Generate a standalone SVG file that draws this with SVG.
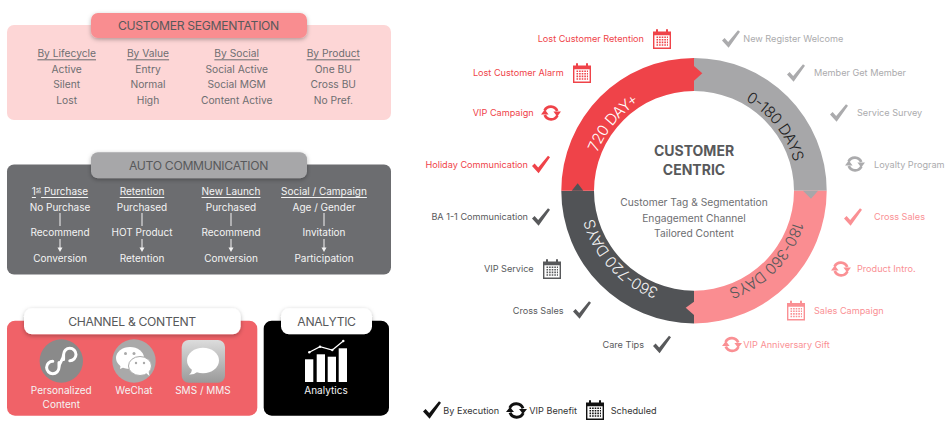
<svg xmlns="http://www.w3.org/2000/svg" xmlns:xlink="http://www.w3.org/1999/xlink" width="950" height="425" viewBox="0 0 950 425">
<style>
text{font-family:Inter,"Liberation Sans",sans-serif;dominant-baseline:central;text-anchor:middle}
.h{font-size:12.2px;fill:#58595b;letter-spacing:-.33px}
.p{font-size:10.25px;fill:#6d6e71}
.u{text-decoration:underline}
.w{font-size:10px;fill:#f4f4f4}
.l{font-size:9.15px}
.e{text-anchor:end}
.s{text-anchor:start}
.red{fill:#ef4349;color:#ef4349}
.gry{fill:#ababad;color:#ababad}
.pnk{fill:#fa9094;color:#fa9094}
.drk{fill:#58595b;color:#58595b}
.blk{fill:#222;color:#111}
.r{font-size:15.2px;font-weight:300}
</style>
<defs>
<filter id="sh" x="-10%" y="-30%" width="120%" height="170%"><feDropShadow dx="0" dy="1.5" stdDeviation="2" flood-color="#000" flood-opacity=".3"/></filter>
<linearGradient id="sms" x1="0" y1="0" x2="0" y2="1"><stop offset="0" stop-color="#dcdcdc"/><stop offset="1" stop-color="#9a9a9a"/></linearGradient>
<path id="ring" d="M694 80.7A110 110 0 1 1 693.99 80.7"/>
<symbol id="chk" viewBox="0 0 18 18" overflow="visible"><path fill="currentColor" d="M0 10.500 2.600 8 6.200 12 16 .3 18 1.800 6.600 17.700Z"/></symbol>
<symbol id="ref" viewBox="-10 -10 20 20" overflow="visible"><g fill="none" stroke="currentColor" stroke-width="2.800"><path d="M-6.400 -2.500A6.900 6.900 0 0 1 6.200 -2"/><path d="M6.400 2.500A6.900 6.900 0 0 1 -6.200 2"/></g><path fill="currentColor" d="M10 -1.500H2.400L6.200 3.400ZM-10 1.500H-2.400L-6.200 -3.400Z"/></symbol>
<symbol id="cal" viewBox="0 0 18 20" overflow="visible"><path fill="currentColor" d="M0 2.500H3V1A1 1 0 0 1 5 1V2.500H13V1A1 1 0 0 1 15 1V2.500H18V20H0ZM1.400 6.200V18.600H16.600V6.200Z"/><g stroke="currentColor" stroke-width="1.600" stroke-dasharray="1.600 1"><path d="M3.500 8.200H15M3.500 10.800H15M3.500 13.400H15M3.500 16H15"/></g></symbol>
</defs>

<g id="customer-segmentation">
<rect x="7" y="25" width="384" height="95" rx="7" fill="#fdd6d6"/>
<rect x="91" y="13" width="216" height="25" rx="7" fill="#f98d90" filter="url(#sh)"/>
<text class="h" x="198.500" y="25.500">CUSTOMER SEGMENTATION</text>
<text class="p u" x="66.700" y="53.300">By Lifecycle</text><text class="p" x="66.700" y="68.700">Active</text><text class="p" x="66.700" y="84.300">Silent</text><text class="p" x="66.700" y="100">Lost</text>
<text class="p u" x="148" y="53.300">By Value</text><text class="p" x="148" y="68.700">Entry</text><text class="p" x="148" y="84.300">Normal</text><text class="p" x="148" y="100">High</text>
<text class="p u" x="236.700" y="53.300">By Social</text><text class="p" x="236.700" y="68.700">Social Active</text><text class="p" x="236.700" y="84.300">Social MGM</text><text class="p" x="236.700" y="100">Content Active</text>
<text class="p u" x="333.300" y="53.300">By Product</text><text class="p" x="333.300" y="68.700">One BU</text><text class="p" x="333.300" y="84.300">Cross BU</text><text class="p" x="333.300" y="100">No Pref.</text>
</g>

<g id="auto-communication">
<rect x="7" y="164.500" width="384" height="110" rx="7" fill="#6c6d70"/>
<rect x="91" y="152.300" width="216" height="26" rx="7" fill="#a7a7a9" filter="url(#sh)"/>
<text class="h" x="198.500" y="165">AUTO COMMUNICATION</text>
<text class="w u" x="60" y="191">1<tspan font-size="6" dy="-2.500">st</tspan><tspan dy="2.500"> Purchase</tspan></text><text class="w" x="60" y="206.700">No Purchase</text><text class="w" x="60" y="232">Recommend</text><text class="w" x="60" y="257.700">Conversion</text>
<text class="w u" x="142" y="191">Retention</text><text class="w" x="142" y="206.700">Purchased</text><text class="w" x="142" y="232">HOT Product</text><text class="w" x="142" y="257.700">Retention</text>
<text class="w u" x="231" y="191">New Launch</text><text class="w" x="231" y="206.700">Purchased</text><text class="w" x="231" y="232">Recommend</text><text class="w" x="231" y="257.700">Conversion</text>
<text class="w u" x="324" y="191">Social / Campaign</text><text class="w" x="324" y="206.700">Age / Gender</text><text class="w" x="324" y="232">Invitation</text><text class="w" x="324" y="257.700">Participation</text>
</g>

<g id="connectors" stroke="#f4f4f4" stroke-width="1" fill="#f4f4f4">
<path d="M60 213V226M142 213V226M231 213V226M324 213V226M60 239V248M142 239V248M231 239V248M324 239V248"/>
<path stroke="none" d="M57.500 247.500H62.500L60 252ZM139.500 247.500H144.500L142 252ZM228.500 247.500H233.500L231 252ZM321.500 247.500H326.500L324 252Z"/>
</g>

<g id="channel-content">
<rect x="7" y="320.700" width="250.300" height="95" rx="8" fill="#f06268"/>
<rect x="24" y="308.300" width="216.700" height="26" rx="8" fill="#fff" filter="url(#sh)"/>
<text class="h" x="132" y="321.300">CHANNEL &amp; CONTENT</text>
<circle cx="61.300" cy="361" r="21.700" fill="#8a8a8a"/>
<path fill="none" stroke="#fff" stroke-width="3" stroke-linecap="round" d="M59 362.500V367.500A6.200 6.200 0 1 1 52.800 361.300M63.600 359.500V354.500A6.200 6.200 0 1 1 69.800 360.700M59 367.500C59 362 63.600 360 63.600 354.500"/>
<circle cx="134" cy="361" r="21.700" fill="#a9a9a9"/>
<path fill="#fff" d="M121 363l-1 6 5.500-2.500z"/>
<ellipse cx="130" cy="358" rx="14" ry="11" fill="#fff"/>
<ellipse cx="140" cy="366" rx="11.500" ry="9.500" fill="#fff" stroke="#a9a9a9"/>
<path fill="#fff" d="M146 373l3.500 3-1-5z"/>
<g fill="#a9a9a9"><circle cx="125.500" cy="353.500" r="1.500"/><circle cx="134" cy="353.500" r="1.500"/><circle cx="136" cy="363" r="1.200"/><circle cx="144" cy="363" r="1.200"/></g>
<rect x="181.700" y="340" width="43.300" height="42.700" rx="7" fill="url(#sms)"/>
<ellipse cx="203" cy="360.500" rx="16" ry="12.800" fill="#fff"/>
<path fill="#fff" d="M192 368q0 5-3 6.500 5 .5 9-3z"/>
<text class="w" x="61.300" y="390">Personalized</text><text class="w" x="61.300" y="404.300">Content</text>
<text class="w" x="134" y="390">WeChat</text>
<text class="w" x="203" y="390">SMS / MMS</text>
</g>

<g id="analytic">
<rect x="263.700" y="320.700" width="125.300" height="95" rx="8" fill="#000"/>
<rect x="281" y="308.300" width="91" height="26" rx="8" fill="#fff" filter="url(#sh)"/>
<text class="h" x="326.500" y="321.300">ANALYTIC</text>
<g fill="#fff"><rect x="305" y="359.300" width="8.300" height="22.700"/><rect x="316.700" y="354.300" width="8.300" height="27.700"/><rect x="327.700" y="356.700" width="8.300" height="25.300"/><rect x="338.700" y="348.300" width="8.300" height="33.700"/>
<circle cx="309.300" cy="352.300" r="1.200"/><circle cx="320" cy="346.700" r="1.200"/><circle cx="332.300" cy="350" r="1.200"/><circle cx="343.300" cy="341" r="1.200"/></g>
<path fill="none" stroke="#fff" stroke-width="1.200" d="M309.300 352.300 320 346.700 332.300 350 343.300 341"/>
<text class="w" x="326" y="390">Analytics</text>
</g>

<g id="ring-0-180">
<path fill="#a7a7a9" d="M694 58A132.700 132.700 0 0 1 826.700 190.700H794A100 100 0 0 0 694 91Z"/>
<path fill="#ef4349" d="M694 66 702.300 73.300 694 80.700Z"/>
<text class="r blk"><textPath xlink:href="#ring" href="#ring" startOffset="14.400%">0-180 DAYS</textPath></text>
</g>
<g id="ring-180-360">
<path fill="#fa8d91" d="M826.700 190.700A132.700 132.700 0 0 1 694 323.400V290.700A100 100 0 0 0 794 190.700Z"/>
<path fill="#a7a7a9" d="M803 190.700H818L811 198.700Z"/>
<text class="r" fill="#58595b"><textPath xlink:href="#ring" href="#ring" startOffset="37.200%">180-360 DAYS</textPath></text>
</g>
<g id="ring-360-720">
<path fill="#515356" d="M694 323.400A132.700 132.700 0 0 1 561.300 190.700H594A100 100 0 0 0 694 290.700Z"/>
<path fill="#fa8d91" d="M694 301.700V315L685.700 307.700Z"/>
<text class="r" fill="#f4f4f4"><textPath xlink:href="#ring" href="#ring" startOffset="63.100%">360-720 DAYS</textPath></text>
</g>
<g id="ring-720">
<path fill="#ef4349" d="M561.300 190.700A132.700 132.700 0 0 1 694 58V91A100 100 0 0 0 594 190.700Z"/>
<path fill="#515356" d="M571.700 190.700H583.300L577.700 183.300Z"/>
<text class="r" fill="#fff"><textPath xlink:href="#ring" href="#ring" startOffset="86.100%">720 DAY+</textPath></text>
</g>

<g id="center">
<text x="694" y="150" font-size="14" font-weight="700" fill="#58595b">CUSTOMER</text>
<text x="694" y="169.300" font-size="14" font-weight="700" fill="#58595b">CENTRIC</text>
<text class="p" x="694" y="202.300">Customer Tag &amp; Segmentation</text>
<text class="p" x="694" y="217.700">Engagement Channel</text>
<text class="p" x="694" y="233.300">Tailored Content</text>
</g>

<g id="t1" class="red"><text class="l e red" x="644" y="38.700">Lost Customer Retention</text><use href="#cal" x="653" y="29" width="18" height="20"/></g>
<g id="t2" class="red"><text class="l e red" x="563.700" y="72.700">Lost Customer Alarm</text><use href="#cal" x="573" y="63" width="18" height="20"/></g>
<g id="t3" class="red"><text class="l e red" x="533.700" y="112.700">VIP Campaign</text><use href="#ref" x="541" y="103" width="20" height="20"/></g>
<g id="t4" class="red"><text class="l e red" x="528" y="164.300">Holiday Communication</text><use href="#chk" x="532" y="155.500" width="18" height="18"/></g>
<g id="t5" class="drk"><text class="l e drk" x="528" y="216.700">BA 1-1 Communication</text><use href="#chk" x="532" y="208" width="18" height="18"/></g>
<g id="t6" class="drk"><text class="l e drk" x="533.700" y="268.700">VIP Service</text><use href="#cal" x="543" y="259" width="18" height="20"/></g>
<g id="t7" class="drk"><text class="l e drk" x="563.700" y="310">Cross Sales</text><use href="#chk" x="573" y="301" width="18" height="18"/></g>
<g id="t8" class="drk"><text class="l e drk" x="644" y="344">Care Tips</text><use href="#chk" x="653" y="335.500" width="18" height="18"/></g>

<g id="t9" class="gry"><text class="l s gry" x="743.300" y="38.500">New Register Welcome</text><use href="#chk" x="722" y="30" width="18" height="18"/></g>
<g id="t10" class="gry"><text class="l s gry" x="814" y="72.700">Member Get Member</text><use href="#chk" x="787" y="64" width="18" height="18"/></g>
<g id="t11" class="gry"><text class="l s gry" x="857" y="112.700">Service Survey</text><use href="#chk" x="830" y="104" width="18" height="18"/></g>
<g id="t12" class="gry"><text class="l s gry" x="874" y="164">Loyalty Program</text><use href="#ref" x="845" y="154" width="20" height="20"/></g>
<g id="t13" class="pnk"><text class="l s pnk" x="874" y="216.700">Cross Sales</text><use href="#chk" x="844" y="208" width="18" height="18"/></g>
<g id="t14" class="pnk"><text class="l s pnk" x="857" y="268.700">Product Intro.</text><use href="#ref" x="831" y="259" width="20" height="20"/></g>
<g id="t15" class="pnk"><text class="l s pnk" x="814" y="310">Sales Campaign</text><use href="#cal" x="787" y="300.500" width="18" height="20"/></g>
<g id="t16" class="pnk"><text class="l s pnk" x="743.300" y="344">VIP Anniversary Gift</text><use href="#ref" x="722" y="334.500" width="20" height="20"/></g>

<g id="legend" class="blk">
<use href="#chk" x="423" y="401" width="18" height="18"/><text class="l s" fill="#333" x="443.300" y="410">By Execution</text>
<use href="#ref" x="506" y="400" width="21" height="21"/><text class="l s" fill="#333" x="529.300" y="410">VIP Benefit</text>
<use href="#cal" x="586" y="400" width="18" height="20"/><text class="l s" fill="#333" x="610.700" y="410">Scheduled</text>
</g>
</svg>
